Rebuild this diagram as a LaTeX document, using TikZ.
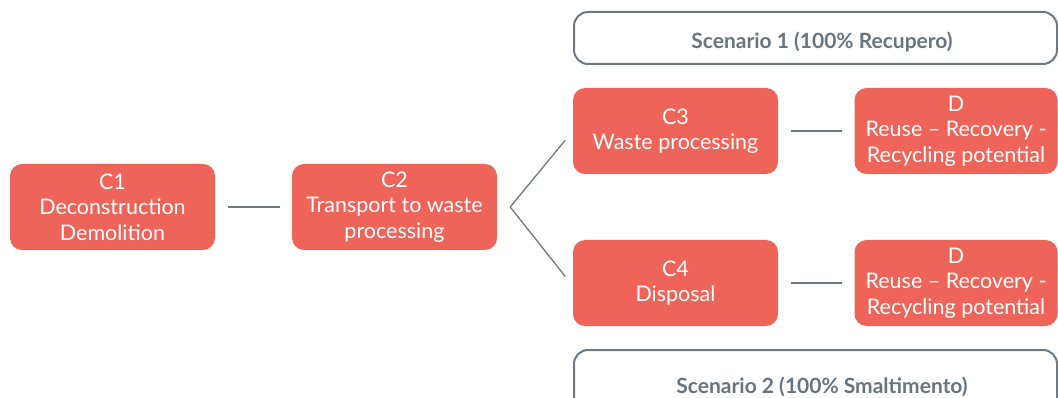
\documentclass[tikz,border=0pt]{standalone}
\usepackage{fontspec}
\setmainfont{Lato}
\usetikzlibrary{calc}
\definecolor{boxred}{HTML}{EF6459}
\definecolor{linegray}{HTML}{6E7881}
\definecolor{textgray}{HTML}{6A747C}
\tikzset{
  stage/.style={rectangle, rounded corners=12pt, fill=boxred, text=white,
    minimum width=205pt, minimum height=86pt, align=center, inner sep=0pt,
    font=\fontsize{21.5pt}{25.5pt}\selectfont},
  scenbox/.style={rectangle, rounded corners=14pt, draw=linegray, line width=2pt,
    fill=white, minimum width=483pt, minimum height=52pt, inner sep=0pt},
  scentext/.style={text=textgray, font=\fontsize{21pt}{25pt}\selectfont\bfseries, inner sep=0pt},
  link/.style={draw=linegray, line width=1.3pt, shorten <=13pt, shorten >=12pt}
}
\begin{document}
\begin{tikzpicture}[x=1pt, y=-1pt]
\useasboundingbox (0,0) rectangle (1058,398);
\clip (0,0) rectangle (1058,398);
% scenario frames
\node[scenbox] (s1) at (815.5,38) {};
\node[scentext, anchor=base] (s1t) at (822,49) {Scenario 1 (100\% Recupero)};
\node[scenbox, minimum height=70pt] (s2) at (815.5,385) {};
\node[scentext, anchor=base] (s2t) at (822,393) {Scenario 2 (100\% Smaltimento)};
% life-cycle stages
\node[stage] (c1) at (112.5,207) {C1\\Deconstruction\\Demolition};
\node[stage] (c2) at (394.5,207) {C2\\Transport to waste\\processing};
\node[stage] (c3) at (675.5,131) {C3\\Waste processing};
\node[stage] (c4) at (675.5,283) {C4\\Disposal};
\node[stage, minimum width=203pt] (d1) at (956,131) {D\\Reuse -- Recovery -\\Recycling potential};
\node[stage, minimum width=203pt] (d2) at (956,283) {D\\Reuse -- Recovery -\\Recycling potential};
% connectors
\coordinate (fork) at ($(c2.east)+(13,0)$);
\draw[link] (c1.east) -- (c2.west);
\draw[link, shorten <=0pt] (fork) -- (c3.west);
\draw[link, shorten <=0pt] (fork) -- ($(c4.west)+(0,3)$);
\draw[link] (c3.east) -- (d1.west);
\draw[link] (c4.east) -- (d2.west);
\end{tikzpicture}
\end{document}
